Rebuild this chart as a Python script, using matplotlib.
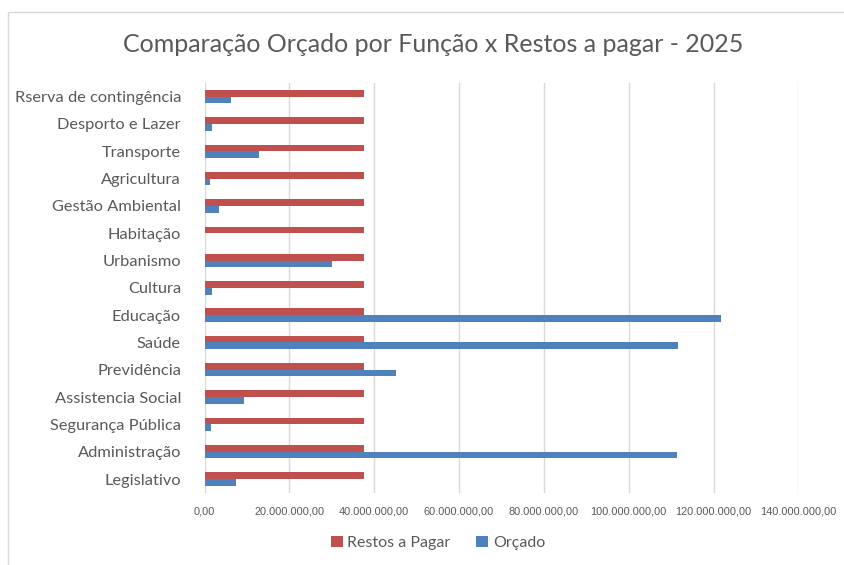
import matplotlib.pyplot as plt
from matplotlib.ticker import FuncFormatter
from matplotlib.patches import Rectangle
import numpy as np

# categories from bottom to top (as drawn)
funcoes = ['Legislativo', 'Administração', 'Segurança Pública', 'Assistencia Social',
           'Previdência', 'Saúde', 'Educação', 'Cultura', 'Urbanismo', 'Habitação',
           'Gestão Ambiental', 'Agricultura', 'Transporte', 'Desporto e Lazer',
           'Rserva de contingência']
orcado = [7.3e6, 111.5e6, 1.4e6, 9.3e6, 45.1e6, 111.6e6, 121.7e6, 1.7e6, 30.1e6, 0,
          3.4e6, 1.2e6, 12.7e6, 1.8e6, 6.3e6]
restos = [37.5e6] * len(funcoes)
xticks = [0, 20e6, 40e6, 60e6, 80e6, 100e6, 120e6, 140e6]

red = '#C0504D'
blue = '#4F81BD'
grey_txt = '#595959'

fig = plt.figure(figsize=(8.44, 5.65), dpi=100)
fig.patches.append(Rectangle((8 / 844, -0.01), 1.0, 1 - 12 / 565 + 0.01, transform=fig.transFigure,
                             fill=False, edgecolor='#d9d9d9', linewidth=1))
ax = fig.add_axes([0.2425, 0.1280, 0.7034, 0.7251])

y = np.arange(len(funcoes))
h = 0.245
ax.barh(y + h / 2, restos, height=h, color=red, label='Restos a Pagar')
ax.barh(y - h / 2, orcado, height=h, color=blue, label='Orçado')

ax.set_xlim(0, 140e6)
ax.set_ylim(-0.5, len(funcoes) - 0.5)
ax.set_xticks(xticks)
ax.xaxis.set_major_formatter(FuncFormatter(lambda v, p: f'{v:,.2f}'.replace(',', 'X').replace('.', ',').replace('X', '.')))
ax.set_yticks(y)
ax.set_yticklabels(funcoes, fontsize=11.8, color=grey_txt, family='Lato')
for lab in ax.get_xticklabels():
    lab.set_family('Liberation Sans')
    lab.set_fontsize(7.9)
    lab.set_color(grey_txt)
ax.tick_params(axis='y', length=0, pad=17)
ax.tick_params(axis='x', length=0, pad=10)
ax.grid(axis='x', color='#d9d9d9', linewidth=1)
ax.set_axisbelow(True)
for s in ax.spines.values():
    s.set_visible(False)

fig.text(433 / 844, 1 - 45 / 565, 'Comparação Orçado por Função x Restos a pagar - 2025',
         ha='center', va='center', fontsize=18, color=grey_txt, family='Lato')

fig.legend(loc='center', bbox_to_anchor=(438 / 844, 1 - 543 / 565), ncol=2, frameon=False,
           prop={'family': 'Lato', 'size': 11.5}, labelcolor=grey_txt,
           handlelength=0.75, handleheight=0.75, handletextpad=0.3, columnspacing=1.6)

fig.savefig('out.png', dpi=100)
